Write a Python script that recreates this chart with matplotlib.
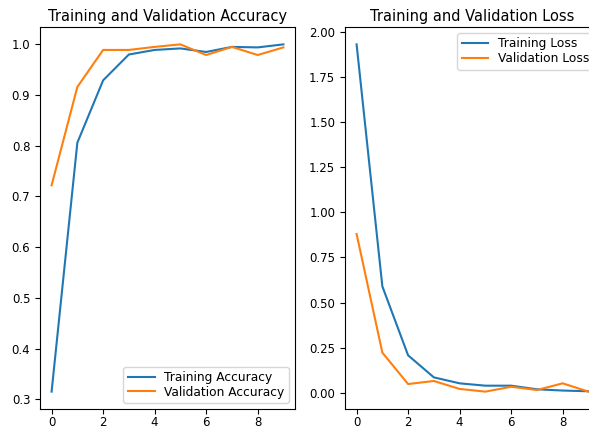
import matplotlib.pyplot as plt

# Dados de treino
epocas = list(range(10))
acc = [0.315, 0.806, 0.929, 0.980, 0.989, 0.992, 0.985, 0.995, 0.994, 1.000]
val_acc = [0.722, 0.916, 0.989, 0.989, 0.995, 1.000, 0.979, 0.995, 0.979, 0.994]
loss = [1.93, 0.59, 0.208, 0.086, 0.053, 0.040, 0.040, 0.020, 0.013, 0.009]
val_loss = [0.88, 0.223, 0.049, 0.066, 0.022, 0.007, 0.034, 0.016, 0.053, 0.007]

fig = plt.figure(figsize=(5.89, 4.30), dpi=100)

estilo_legenda = dict(fontsize=8.8, labelspacing=0.15, handlelength=2.2, borderpad=0.35)

# Gráfico de acurácia
ax1 = fig.add_axes([40 / 589, 21 / 430, 255 / 589, 382 / 430])
ax1.plot(epocas, acc, label='Training Accuracy')
ax1.plot(epocas, val_acc, label='Validation Accuracy')
ax1.legend(loc='lower right', **estilo_legenda)
ax1.set_title('Training and Validation Accuracy', fontsize=10.5, pad=4)
ax1.tick_params(labelsize=8.5)
ax1.tick_params(axis='x', pad=1.5)

# Gráfico de perda
ax2 = fig.add_axes([345 / 589, 21 / 430, 255 / 589, 382 / 430])
ax2.plot(epocas, loss, label='Training Loss')
ax2.plot(epocas, val_loss, label='Validation Loss')
ax2.legend(loc='upper right', **estilo_legenda)
ax2.set_title('Training and Validation Loss', fontsize=10.5, pad=4)
ax2.tick_params(labelsize=8.5)
ax2.tick_params(axis='x', pad=1.5)

fig.savefig('out.png')
